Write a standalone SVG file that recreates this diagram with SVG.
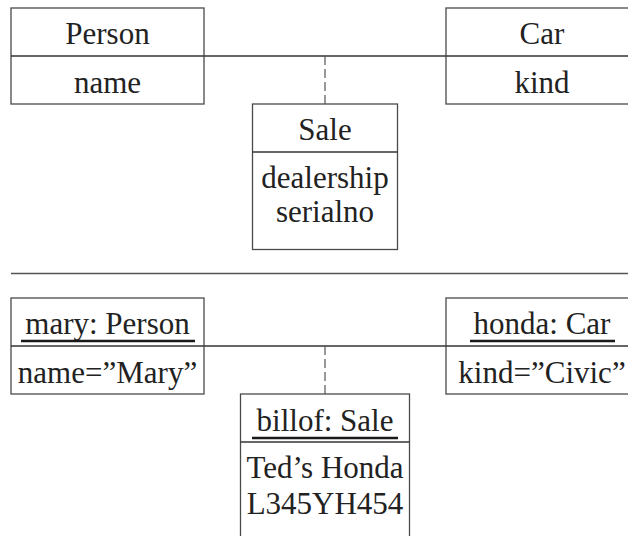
<svg xmlns="http://www.w3.org/2000/svg" width="628" height="536" viewBox="0 0 628 536">
  <style>
    .box { fill: #fff; stroke: #4a4a4a; stroke-width: 1.3; }
    .div { stroke: #333; stroke-width: 1.3; }
    .link { stroke: #333; stroke-width: 1.3; fill: none; }
    .dash { stroke: #555; stroke-width: 1.2; stroke-dasharray: 9 4; fill: none; }
    .rule { stroke: #555; stroke-width: 1.3; }
    .t { font-family: "Liberation Serif", "Times New Roman", serif; font-size: 31px; fill: #222; text-anchor: middle; }
    .ul { stroke: #1a1a1a; stroke-width: 2.6; }
  </style>
  <rect width="628" height="536" fill="#fff"/>

  <!-- class-level association -->
  <g id="connectors-classes">
    <line class="link" x1="204" y1="56" x2="446" y2="56"/>
    <line class="dash" x1="325" y1="56" x2="325" y2="104"/>
  </g>

  <g id="class-person">
    <rect class="box" x="11" y="8" width="193" height="96"/>
    <line class="div" x1="11" y1="56" x2="204" y2="56"/>
    <text class="t" x="107.5" y="44">Person</text>
    <text class="t" x="107.5" y="93">name</text>
  </g>

  <g id="class-car">
    <rect class="box" x="446" y="8" width="193" height="96"/>
    <line class="div" x1="446" y1="56" x2="639" y2="56"/>
    <text class="t" x="542" y="44">Car</text>
    <text class="t" x="542" y="93">kind</text>
  </g>

  <g id="class-sale">
    <rect class="box" x="252.5" y="104" width="145" height="145.5"/>
    <line class="div" x1="252.5" y1="152" x2="397.5" y2="152"/>
    <text class="t" x="325" y="140">Sale</text>
    <text class="t" x="325" y="188">dealership</text>
    <text class="t" x="325" y="222">serialno</text>
  </g>

  <line class="rule" x1="11" y1="273.5" x2="628" y2="273.5"/>

  <!-- object-level link -->
  <g id="connectors-objects">
    <line class="link" x1="204" y1="346" x2="446" y2="346"/>
    <line class="dash" x1="325" y1="346" x2="325" y2="394"/>
  </g>

  <g id="obj-mary">
    <rect class="box" x="11" y="298" width="193" height="96"/>
    <line class="div" x1="11" y1="346" x2="204" y2="346"/>
    <text class="t" x="107.5" y="334">mary: Person</text>
    <line class="ul" x1="21" y1="341" x2="195" y2="341"/>
    <text class="t" x="107.5" y="383">name=”Mary”</text>
  </g>

  <g id="obj-honda">
    <rect class="box" x="446" y="298" width="193" height="96"/>
    <line class="div" x1="446" y1="346" x2="639" y2="346"/>
    <text class="t" x="542" y="334">honda: Car</text>
    <line class="ul" x1="470" y1="341" x2="615" y2="341"/>
    <text class="t" x="542" y="383">kind=”Civic”</text>
  </g>

  <g id="obj-billof">
    <rect class="box" x="240.5" y="394" width="169" height="150"/>
    <line class="div" x1="240.5" y1="442" x2="409.5" y2="442"/>
    <text class="t" x="325" y="431">billof: Sale</text>
    <line class="ul" x1="252" y1="438" x2="398" y2="438"/>
    <text class="t" x="325" y="478">Ted’s Honda</text>
    <text class="t" x="325" y="514">L345YH454</text>
  </g>
</svg>
